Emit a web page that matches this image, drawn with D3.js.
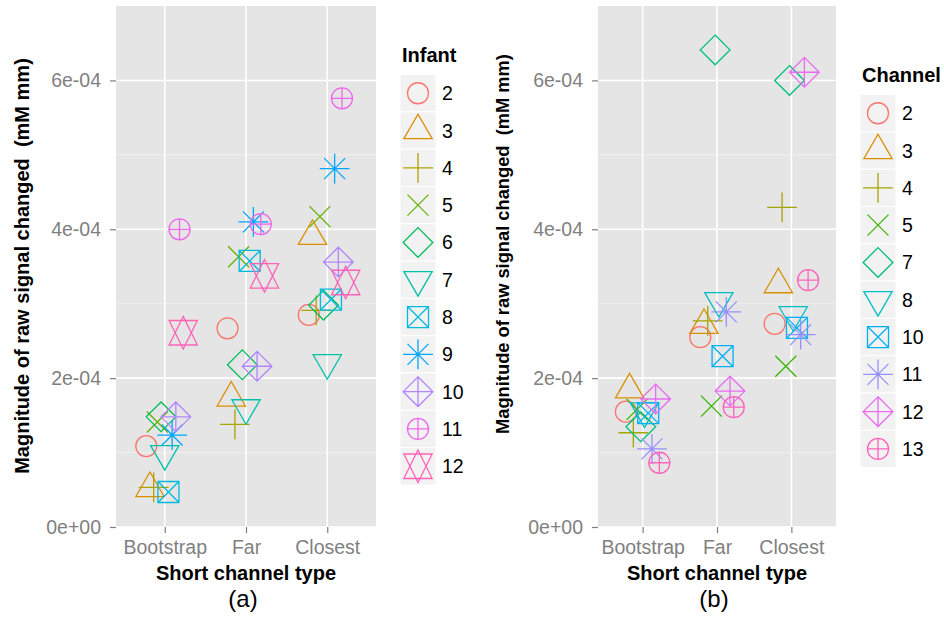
<!DOCTYPE html>
<html>
<head>
<meta charset="utf-8">
<script src="https://cdn.jsdelivr.net/npm/d3@7"></script>
<style>
  body { margin: 0; background: #fff; }
  svg { display: block; font-family: "Liberation Sans", Arial, Helvetica, sans-serif; }
</style>
</head>
<body>
<svg id="chart" width="944" height="618"></svg>
<script>
// Short-channel categories and y axis ticks shared by both panels
const categories = ["Bootstrap", "Far", "Closest"];
const yTickValues = [0, 2e-4, 4e-4, 6e-4];
const yTickLabels = ["0e+00", "2e-04", "4e-04", "6e-04"];
const yMinorValues = [1e-4, 3e-4, 5e-4];

// Panel (a): magnitude per infant
const infants = ["2", "3", "4", "5", "6", "7", "8", "9", "10", "11", "12"];
const infantBootstrap = [1.087e-4, 5.19e-5, 5.33e-5, 1.41e-4, 1.48e-4, 9.84e-5, 4.70e-5, 1.235e-4, 1.48e-4, 4.00e-4, 2.61e-4];
const infantFar       = [2.67e-4, 1.735e-4, 1.38e-4, 3.63e-4, 2.18e-4, 1.60e-4, 3.575e-4, 4.10e-4, 2.16e-4, 4.07e-4, 3.375e-4];
const infantClosest   = [2.85e-4, 3.906e-4, 2.91e-4, 4.17e-4, 2.98e-4, 2.205e-4, 3.056e-4, 4.815e-4, 3.56e-4, 5.76e-4, 3.285e-4];

// Panel (b): magnitude per channel
const channels = ["2", "3", "4", "5", "7", "8", "10", "11", "12", "13"];
const channelBootstrap = [1.55e-4, 1.845e-4, 1.266e-4, 1.58e-4, 1.346e-4, 1.557e-4, 1.53e-4, 1.05e-4, 1.72e-4, 8.63e-5];
const channelFar       = [2.55e-4, 2.71e-4, 2.77e-4, 1.624e-4, 6.41e-4, 3.04e-4, 2.295e-4, 2.89e-4, 1.826e-4, 1.61e-4];
const channelClosest   = [2.73e-4, 3.257e-4, 4.295e-4, 2.16e-4, 6.0e-4, 2.85e-4, 2.675e-4, 2.585e-4, 6.11e-4, 3.316e-4];

// Hue palettes
const infantColors = ["#F8766D", "#DB8E00", "#AEA200", "#64B200", "#00BD5C", "#00C1A7", "#00BADE", "#00A6FF", "#B385FF", "#EF67EB", "#FF63B6"];
const channelColors = ["#F8766D", "#D89000", "#A3A500", "#39B600", "#00BF7D", "#00BFC4", "#00B0F6", "#9590FF", "#E76BF3", "#FF62BC"];

const svg = d3.select("#chart");
const FONT_TICK = 19.5;
const GREY_TEXT = "#7F7F7F";

// Open plotting symbols (circle, triangle, plus, times, diamond, ...)
function symbolPath(kind) {
  const R = 10.5, S = Math.SQRT2 * R;
  const p = d3.path();
  const seg = (x1, y1, x2, y2) => { p.moveTo(x1, y1); p.lineTo(x2, y2); };
  const circle = r => { p.moveTo(r, 0); p.arc(0, 0, r, 0, 2 * Math.PI); };
  const plus = h => { seg(-h, 0, h, 0); seg(0, -h, 0, h); };
  const times = h => { seg(-h, -h, h, h); seg(-h, h, h, -h); };
  const diamond = h => { p.moveTo(0, -h); p.lineTo(h, 0); p.lineTo(0, h); p.lineTo(-h, 0); p.closePath(); };
  const tri = dir => {
    const r = 1.5551 * R, yc = 0.7776 * R, xc = 1.3468 * R;
    p.moveTo(0, -dir * r); p.lineTo(xc, dir * yc); p.lineTo(-xc, dir * yc); p.closePath();
  };
  switch (kind) {
    case 1: circle(R); break;
    case 2: tri(1); break;
    case 3: plus(S); break;
    case 4: times(R); break;
    case 5: diamond(S); break;
    case 6: tri(-1); break;
    case 7: p.rect(-R, -R, 2 * R, 2 * R); times(R); break;
    case 8: times(R); plus(S); break;
    case 9: diamond(S); plus(S); break;
    case 10: circle(R); plus(R); break;
    case 11: {
      const r = 1.5551 * R, yc = 0.5 * (0.7776 * R + r), xc = 1.3468 * R;
      p.moveTo(0, -r); p.lineTo(xc, yc); p.lineTo(-xc, yc); p.closePath();
      p.moveTo(0, r); p.lineTo(xc, -yc); p.lineTo(-xc, -yc); p.closePath();
      break;
    }
  }
  return p.toString();
}

function drawPanel(cfg) {
  const top = 6, bottom = 527;
  const y = d3.scaleLinear().domain([0, 7e-4]).range([bottom, top]);
  const x = d3.scalePoint().domain(categories).range([cfg.left, cfg.right]).padding(0.6);
  // dodge each group within a category
  const dodge = d3.scalePoint().domain(cfg.keys)
    .range([-0.25 * x.step(), 0.25 * x.step()]).padding(0.5);
  const color = d3.scaleOrdinal().domain(cfg.keys).range(cfg.colors);
  const shape = d3.scaleOrdinal().domain(cfg.keys).range(d3.range(1, cfg.keys.length + 1));

  const g = svg.append("g");
  // panel background
  g.append("rect").attr("x", cfg.left).attr("y", top)
    .attr("width", cfg.right - cfg.left).attr("height", bottom - top).attr("fill", "#E5E5E5");
  // minor grid
  g.selectAll(".minor").data(yMinorValues).join("line")
    .attr("x1", cfg.left).attr("x2", cfg.right)
    .attr("y1", d => y(d)).attr("y2", d => y(d))
    .attr("stroke", "#F2F2F2").attr("stroke-width", 0.8);
  // major grid
  g.selectAll(".majorY").data(yTickValues).join("line")
    .attr("x1", cfg.left).attr("x2", cfg.right)
    .attr("y1", d => y(d)).attr("y2", d => y(d))
    .attr("stroke", "#fff").attr("stroke-width", 1.6);
  g.selectAll(".majorX").data(categories).join("line")
    .attr("x1", d => x(d)).attr("x2", d => x(d))
    .attr("y1", top).attr("y2", bottom)
    .attr("stroke", "#fff").attr("stroke-width", 1.6);

  // axes
  const yAxis = g.append("g").attr("transform", `translate(${cfg.left},0)`)
    .call(d3.axisLeft(y).tickValues(yTickValues)
      .tickFormat((d, i) => yTickLabels[i]).tickSize(6).tickPadding(9));
  const xAxis = g.append("g").attr("transform", `translate(0,${bottom})`)
    .call(d3.axisBottom(x).tickSize(6).tickPadding(7));
  [yAxis, xAxis].forEach(a => {
    a.select(".domain").remove();
    a.selectAll(".tick line").attr("stroke", GREY_TEXT).attr("stroke-width", 1.2);
    a.selectAll(".tick text").attr("fill", GREY_TEXT).style("font-size", FONT_TICK + "px");
  });

  // points
  const points = [];
  cfg.keys.forEach((k, i) => {
    categories.forEach((c, j) => points.push({ key: k, cat: c, value: cfg.series[j][i] }));
  });
  g.selectAll(".pt").data(points).join("path")
    .attr("transform", d => `translate(${x(d.cat) + dodge(d.key)},${y(d.value)})`)
    .attr("d", d => symbolPath(shape(d.key)))
    .attr("fill", "none").attr("stroke", d => color(d.key)).attr("stroke-width", 1.3);

  // axis titles and caption
  const cx = (cfg.left + cfg.right) / 2;
  g.append("text").attr("x", cx).attr("y", 580).attr("text-anchor", "middle")
    .style("font-size", "20px").style("font-weight", "bold").attr("fill", "#000")
    .text("Short channel type");
  g.append("text").attr("x", cx - 3).attr("y", 606.5).attr("text-anchor", "middle")
    .style("font-size", "24px").attr("fill", "#000").text(cfg.caption);
  g.append("text")
    .attr("transform", `translate(${cfg.yTitleX},${cfg.yTitleY}) rotate(-90)`)
    .attr("text-anchor", "middle").style("font-size", cfg.yTitleSize + "px")
    .style("font-weight", "bold").attr("fill", "#000").attr("xml:space", "preserve")
    .text("Magnitude of raw signal changed  (mM mm)");

  // legend
  const lg = svg.append("g").attr("transform", `translate(${cfg.legendX},0)`);
  lg.append("text").attr("x", 2).attr("y", cfg.legendTitleY)
    .style("font-size", "20px").style("font-weight", "bold").attr("fill", "#000")
    .text(cfg.legendTitle);
  const keyStep = 37.3, keySize = 36;
  const items = lg.selectAll(".key").data(cfg.keys).join("g")
    .attr("transform", (d, i) => `translate(0,${cfg.keyTop + i * keyStep})`);
  items.append("rect").attr("width", keySize).attr("height", keyStep)
    .attr("fill", "#F2F2F2").attr("stroke", "#fff").attr("stroke-width", 1);
  items.append("path")
    .attr("transform", `translate(${keySize / 2},${keyStep / 2})`)
    .attr("d", d => symbolPath(shape(d)))
    .attr("fill", "none").attr("stroke", d => color(d)).attr("stroke-width", 1.3);
  items.append("text").attr("x", keySize + 6).attr("y", keyStep / 2).attr("dy", "0.36em")
    .style("font-size", "19.5px").attr("fill", "#000").text(d => d);
}

drawPanel({
  left: 116, right: 376, keys: infants, colors: infantColors,
  series: [infantBootstrap, infantFar, infantClosest],
  caption: "(a)", yTitleX: 28.5, yTitleY: 266, yTitleSize: 20,
  legendX: 400, legendTitle: "Infant", legendTitleY: 62, keyTop: 74.6
});
drawPanel({
  left: 598, right: 836, keys: channels, colors: channelColors,
  series: [channelBootstrap, channelFar, channelClosest],
  caption: "(b)", yTitleX: 508.5, yTitleY: 244, yTitleSize: 18.3,
  legendX: 860, legendTitle: "Channel", legendTitleY: 82, keyTop: 94.6
});
</script>
</body>
</html>
